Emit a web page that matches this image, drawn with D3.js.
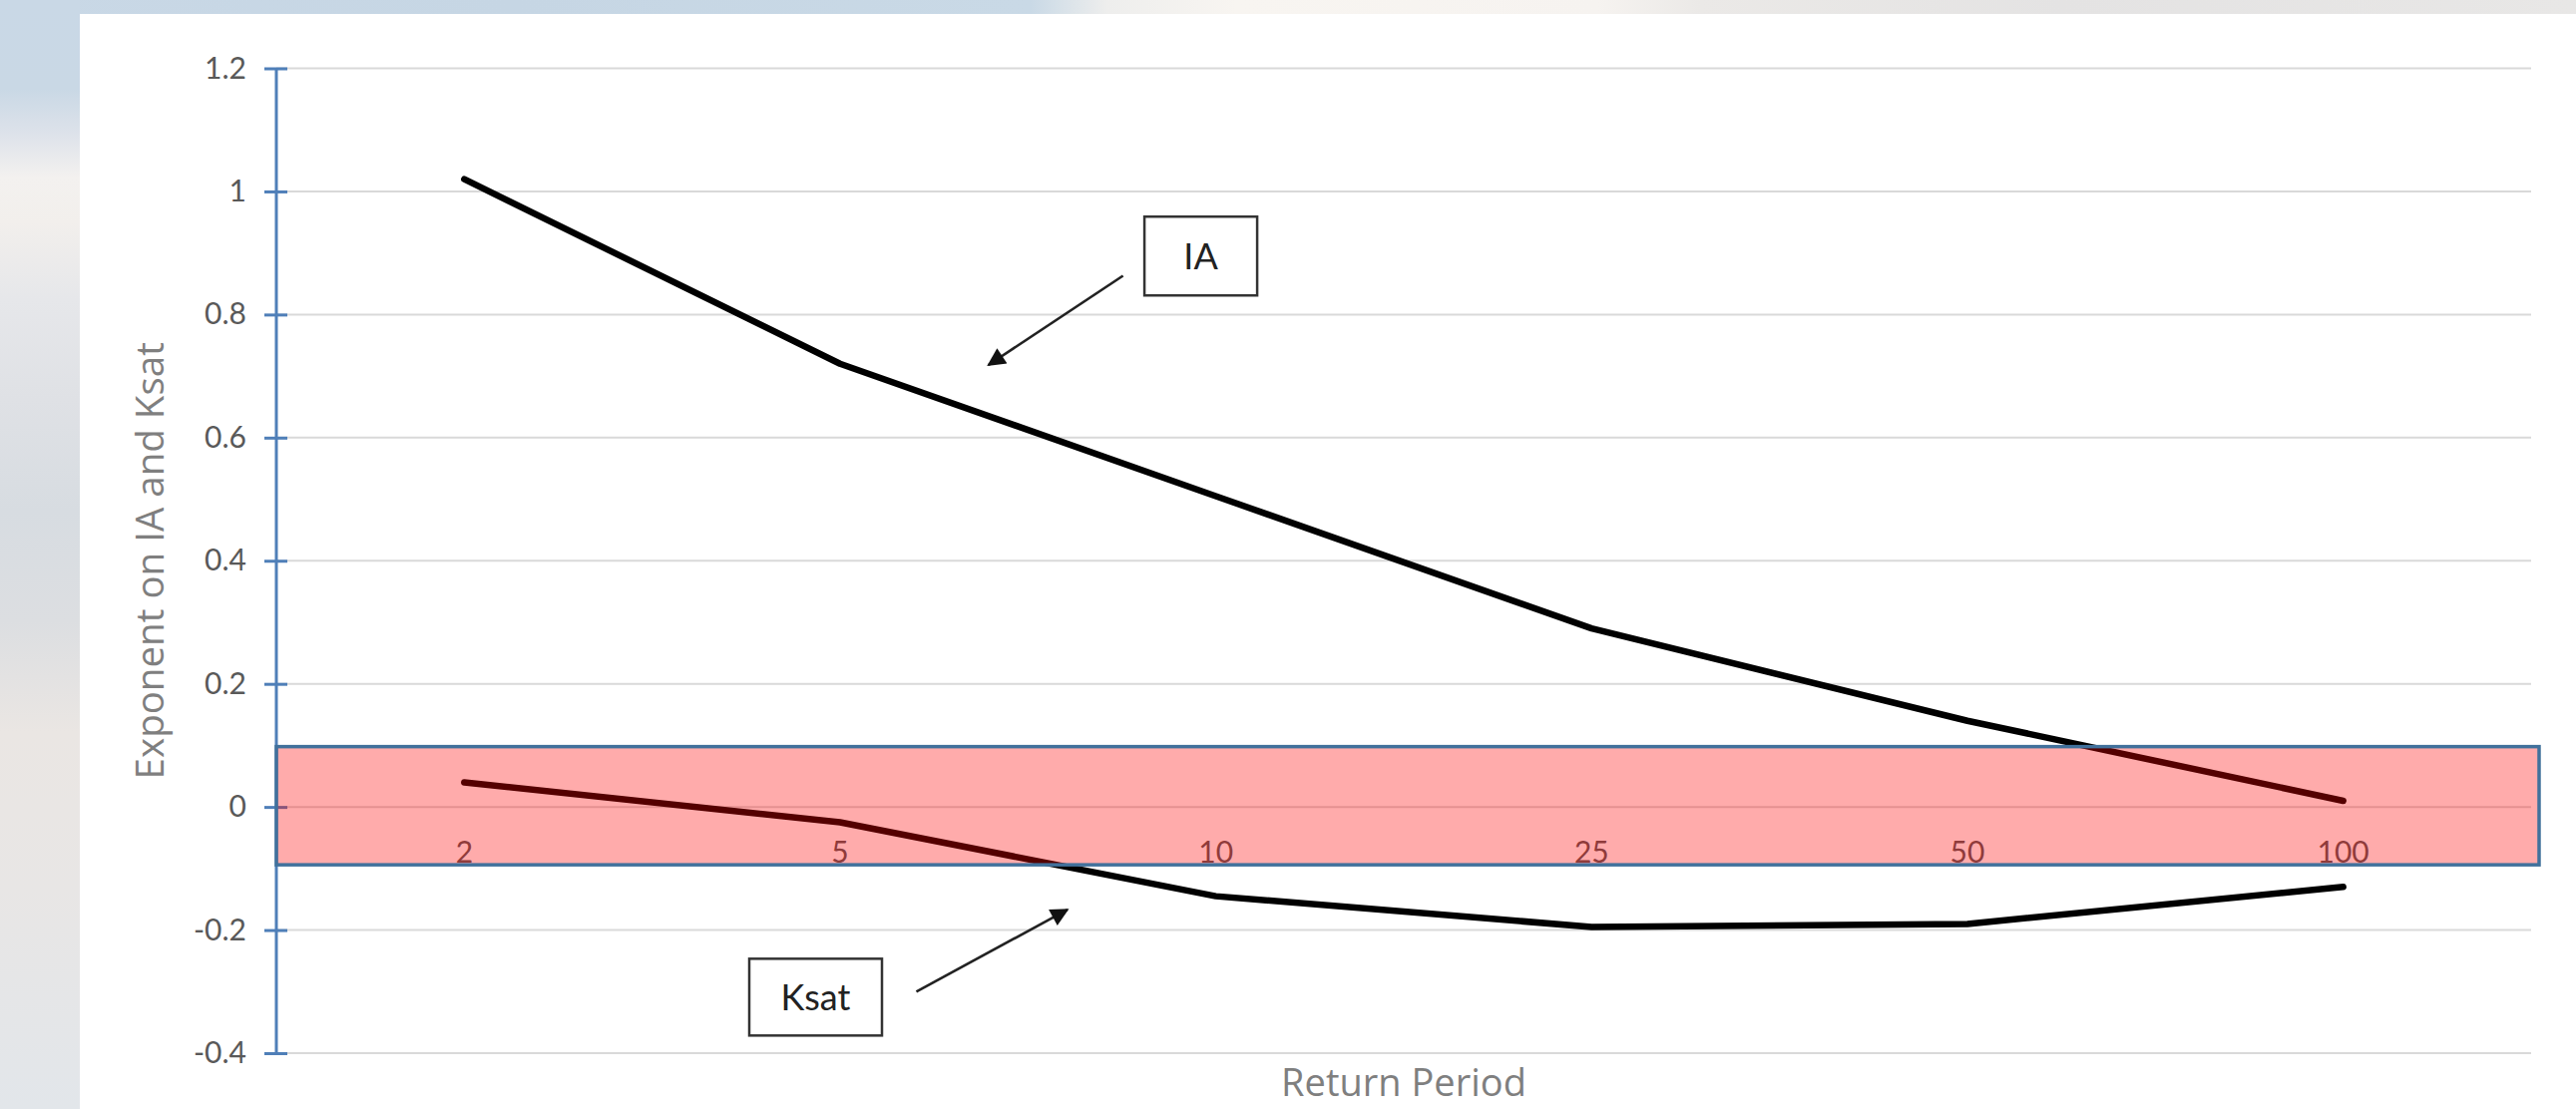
<!DOCTYPE html>
<html>
<head>
<meta charset="utf-8">
<script src="https://cdn.jsdelivr.net/npm/d3@7"></script>
<style>
  html, body { margin: 0; padding: 0; background: #ffffff; }
  svg { display: block; }
</style>
</head>
<body>
<script>
// Return periods (years) on the category axis
const periods = ["2", "5", "10", "25", "50", "100"];
// Exponent applied to initial abstraction (IA) for each return period
const iaExponent = [1.02, 0.72, 0.505, 0.29, 0.14, 0.01];
// Exponent applied to saturated hydraulic conductivity (Ksat)
const ksatExponent = [0.04, -0.025, -0.145, -0.195, -0.19, -0.13];
// Value-axis ticks
const yTicks = [-0.4, -0.2, 0, 0.2, 0.4, 0.6, 0.8, 1, 1.2];
// Highlighted band around zero (value limits)
const bandLimits = [-0.094, 0.098];
// Callouts: label, box centre and arrow ends in (category index, value)
const callouts = [
  { label: "IA",   box: [1.96, 0.895],  from: [1.753, 0.863], to: [1.395, 0.718], w: 113, h: 79 },
  { label: "Ksat", box: [0.935, -0.309], from: [1.203, -0.300], to: [1.605, -0.167], w: 133, h: 77 }
];

const W = 2582, H = 1112;
const svg = d3.select("body").append("svg").attr("width", W).attr("height", H);
const defs = svg.append("defs");

// Backdrop: sky strip along the top and down the left side
const gTop = defs.append("linearGradient").attr("id", "skyTop").attr("x1", 0).attr("x2", 1).attr("y1", 0).attr("y2", 0);
[[0, "#c9d8e6"], [0.2, "#c6d6e4"], [0.4, "#c9d9e6"], [0.43, "#eeeeed"], [0.48, "#f8f5f1"], [0.62, "#f6f3f0"],
 [0.66, "#ebe9e7"], [0.8, "#e4e3e3"], [1, "#e8e7e6"]].forEach(([o, c]) =>
  gTop.append("stop").attr("offset", o).attr("stop-color", c));
const gLeft = defs.append("linearGradient").attr("id", "skyLeft").attr("x1", 0).attr("x2", 0).attr("y1", 0).attr("y2", 1);
[[0, "#c9d8e6"], [0.08, "#c9d8e5"], [0.12, "#dde2ea"], [0.16, "#f3f1ef"], [0.2, "#f2efec"], [0.27, "#e6e7ea"],
 [0.36, "#dfe1e5"], [0.46, "#d7dce1"], [0.56, "#dcdee1"], [0.66, "#eae6e3"], [0.8, "#e8e6e5"], [1, "#e2e6ea"]].forEach(([o, c]) =>
  gLeft.append("stop").attr("offset", o).attr("stop-color", c));

svg.append("rect").attr("x", 0).attr("y", 0).attr("width", W).attr("height", 14).attr("fill", "url(#skyTop)");
svg.append("rect").attr("x", 0).attr("y", 0).attr("width", 80).attr("height", H).attr("fill", "url(#skyLeft)");

// Scales
const x = d3.scaleBand().domain(periods).range([277, 2537]);
const y = d3.scaleLinear().domain([-0.4, 1.2]).range([1056, 68.5]);
const cx = d => x(d) + x.bandwidth() / 2;
// position along the category axis by fractional index
const xi = i => cx(periods[0]) + i * x.step();

// Horizontal gridlines
svg.append("g")
  .selectAll("line").data(yTicks).join("line")
  .attr("x1", x.range()[0]).attr("x2", x.range()[1])
  .attr("y1", d => y(d)).attr("y2", d => y(d))
  .attr("stroke", "#d9d9d9").attr("stroke-width", 2);

// Value axis with ticks crossing the line
const yAxis = svg.append("g").attr("transform", `translate(${x.range()[0]},0)`)
  .call(d3.axisLeft(y).tickValues(yTicks).tickFormat(d => String(d)).tickSize(0).tickPadding(30));
yAxis.select(".domain").attr("stroke", "#4f7fb8").attr("stroke-width", 3).attr("d", `M0,${y(1.2)}V${y(-0.4)}`);
yAxis.selectAll(".tick").append("line")
  .attr("x1", -12).attr("x2", 11).attr("y1", 0).attr("y2", 0)
  .attr("stroke", "#4f7fb8").attr("stroke-width", 3);
yAxis.selectAll("text")
  .attr("font-family", "Lato, 'Liberation Sans', sans-serif").attr("font-size", 30)
  .attr("fill", "#595959");

// Series lines
const line = d3.line().x((d, i) => cx(periods[i])).y(d => y(d));
[iaExponent, ksatExponent].forEach(vals => {
  svg.append("path").datum(vals).attr("d", line)
    .attr("fill", "none").attr("stroke", "#000").attr("stroke-width", 6.5)
    .attr("stroke-linejoin", "round").attr("stroke-linecap", "round");
});

// Category labels sit next to the zero line
svg.append("g").selectAll("text").data(periods).join("text")
  .attr("x", d => cx(d)).attr("y", y(0) + 56)
  .attr("text-anchor", "middle")
  .attr("font-family", "Lato, 'Liberation Sans', sans-serif").attr("font-size", 30)
  .attr("fill", "#595959").text(d => d);

// Semi-transparent band around zero
svg.append("rect")
  .attr("x", x.range()[0]).attr("y", y(bandLimits[1]))
  .attr("width", x.range()[1] + 8 - x.range()[0]).attr("height", y(bandLimits[0]) - y(bandLimits[1]))
  .attr("fill", "#ff0000").attr("fill-opacity", 0.33)
  .attr("stroke", "#41719c").attr("stroke-width", 3.5);

// Axis titles
svg.append("text")
  .attr("transform", `translate(164,${(y(1.2) + y(-0.4)) / 2}) rotate(-90)`)
  .attr("text-anchor", "middle")
  .attr("font-family", "'Open Sans', 'Noto Sans', sans-serif").attr("font-size", 38.5)
  .attr("fill", "#7f7f7f").text("Exponent on IA and Ksat");
svg.append("text")
  .attr("x", (x.range()[0] + x.range()[1]) / 2).attr("y", 1099)
  .attr("text-anchor", "middle")
  .attr("font-family", "'Open Sans', 'Noto Sans', sans-serif").attr("font-size", 38)
  .attr("fill", "#7f7f7f").text("Return Period");

// Callout boxes with arrows
defs.append("marker").attr("id", "arrowHead")
  .attr("viewBox", "0 0 10 10").attr("refX", 9).attr("refY", 5)
  .attr("markerWidth", 8).attr("markerHeight", 7).attr("markerUnits", "strokeWidth")
  .attr("orient", "auto")
  .append("path").attr("d", "M0,0L10,5L0,10Z").attr("fill", "#111");

const cg = svg.append("g").selectAll("g").data(callouts).join("g");
cg.append("line")
  .attr("x1", d => xi(d.from[0])).attr("y1", d => y(d.from[1]))
  .attr("x2", d => xi(d.to[0])).attr("y2", d => y(d.to[1]))
  .attr("stroke", "#222").attr("stroke-width", 2.6)
  .attr("marker-end", "url(#arrowHead)");
cg.append("rect")
  .attr("x", d => xi(d.box[0]) - d.w / 2).attr("y", d => y(d.box[1]) - d.h / 2)
  .attr("width", d => d.w).attr("height", d => d.h)
  .attr("fill", "#fff").attr("stroke", "#333").attr("stroke-width", 2.5);
cg.append("text")
  .attr("x", d => xi(d.box[0])).attr("y", d => y(d.box[1]) + 13)
  .attr("text-anchor", "middle")
  .attr("font-family", "Lato, 'Liberation Sans', sans-serif").attr("font-size", 36)
  .attr("fill", "#222").text(d => d.label);
</script>
</body>
</html>
